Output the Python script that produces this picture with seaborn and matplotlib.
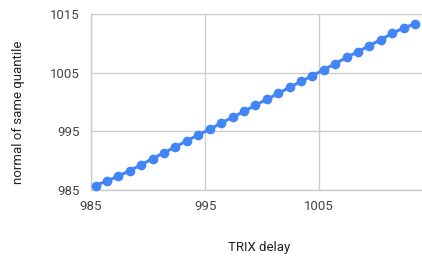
import matplotlib
matplotlib.use("Agg")
import matplotlib.pyplot as plt
import seaborn as sns
import pandas as pd

x_delay = [985.4, 986.4, 987.4, 988.4, 989.4, 990.4, 991.4, 992.4, 993.4, 994.4,
           995.4, 996.4, 997.4, 998.4, 999.4, 1000.4, 1001.4, 1002.4, 1003.4, 1004.4,
           1005.4, 1006.4, 1007.4, 1008.4, 1009.4, 1010.4, 1011.4, 1012.4, 1013.4]
y_normal = [985.75, 986.55, 987.35, 988.3, 989.3, 990.35, 991.35, 992.35, 993.4, 994.4,
            995.35, 996.4, 997.4, 998.4, 999.45, 1000.45, 1001.45, 1002.5, 1003.5, 1004.5,
            1005.5, 1006.55, 1007.6, 1008.6, 1009.6, 1010.65, 1011.7, 1012.65, 1013.3]
x_ticks = [985, 995, 1005]
y_ticks = [985, 995, 1005, 1015]

sns.set_style("white")
plt.rcParams['font.family'] = ['Roboto', 'DejaVu Sans']

df = pd.DataFrame({"x": x_delay, "y": y_normal})

fig = plt.figure(figsize=(4.22, 2.56), dpi=100)
ax = fig.add_axes([91/422, 66/256, 331/422, 176/256])

blue = "#4285F4"
sns.lineplot(data=df, x="x", y="y", ax=ax, color=blue, linewidth=2.2,
             marker="o", markersize=7, markeredgewidth=0, markerfacecolor=blue,
             clip_on=False, zorder=3)

ax.set_xlim(985, 1014)
ax.set_ylim(985, 1015)
ax.set_xticks(x_ticks)
ax.set_yticks(y_ticks)
ax.grid(True, color="#cccccc", linewidth=1)
for s in ["top", "right"]:
    ax.spines[s].set_visible(False)
for s in ["left", "bottom"]:
    ax.spines[s].set_color("#cccccc")
    ax.spines[s].set_linewidth(1)
ax.tick_params(axis="both", length=0, labelsize=9.5, colors="#444444")
ax.tick_params(axis="x", pad=7)
ax.tick_params(axis="y", pad=8)
ax.set_xlabel("")
ax.set_ylabel("")

fig.text(259/422, 1 - 248/256, "TRIX delay", ha="center", va="center",
         fontsize=9.5, color="#222222")
fig.text(19/422, 1 - 112/256, "normal of same quantile", ha="center", va="center",
         rotation=90, fontsize=9.5, color="#222222")

fig.savefig("out.png", dpi=100)
